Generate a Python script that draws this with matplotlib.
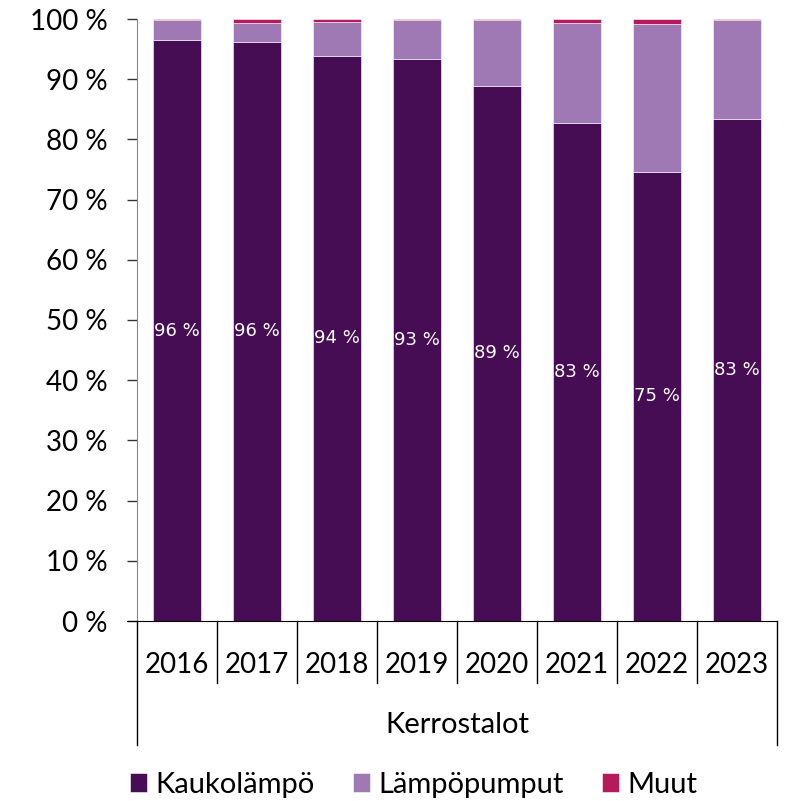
import numpy as np
import matplotlib.pyplot as plt
from matplotlib.transforms import blended_transform_factory

years = ['2016', '2017', '2018', '2019', '2020', '2021', '2022', '2023']
kaukolampo = [96.5, 96.2, 93.9, 93.4, 88.9, 82.7, 74.6, 83.4]
lampopumput = [3.3, 3.1, 5.6, 6.4, 10.9, 16.6, 24.6, 16.5]
muut = [0.2, 0.7, 0.5, 0.2, 0.2, 0.7, 0.8, 0.1]
group = 'Kerrostalot'
series = ['Kaukolämpö', 'Lämpöpumput', 'Muut']
colors = ['#470D54', '#9E79B3', '#B51B5B']

plt.rcParams['font.family'] = ['Lato', 'DejaVu Sans']

fig = plt.figure(figsize=(7.85, 8.01), dpi=100)
ax = fig.add_axes([137 / 785, 1 - 621 / 801, 640 / 785, 602 / 801])

x = np.arange(len(years))
w = 0.61
bottom = np.zeros(len(years))
handles = []
for vals, col, name in zip([kaukolampo, lampopumput, muut], colors, series):
    b = ax.bar(x, vals, w, bottom=bottom, color=col, edgecolor='white',
               linewidth=0.4, label=name)
    handles.append(b)
    bottom += np.array(vals)

for xi, v in zip(x, kaukolampo):
    ax.text(xi, v / 2, f'{v:.0f} %', ha='center', va='center', color='white',
            fontsize=13, family='DejaVu Sans')

ax.set_xlim(-0.5, len(years) - 0.5)
ax.set_ylim(0, 100)
ax.set_yticks(np.arange(0, 101, 10))
ax.set_yticklabels([f'{v} %' for v in range(0, 101, 10)], fontsize=20)
ax.tick_params(axis='y', length=7, width=1, color='#333333', pad=14)

ax.set_xticks(x)
ax.set_xticklabels(years, fontsize=20)
ax.tick_params(axis='x', length=0, pad=22)

for s in ['top', 'right']:
    ax.spines[s].set_visible(False)
ax.spines['left'].set_color('#888888')
ax.spines['bottom'].set_color('black')
ax.spines['bottom'].set_bounds(-0.62, len(years) - 0.5)

trans = blended_transform_factory(ax.transData, ax.transAxes)
for b in np.arange(-0.5, len(years), 1.0):
    y_end = -0.206 if b in (-0.5, len(years) - 0.5) else -0.103
    ax.plot([b, b], [0, y_end], color='black', lw=1, transform=trans,
            clip_on=False)

ax.text((len(years) - 1) / 2, -0.173, group, transform=trans, ha='center',
        va='center', fontsize=21)

fig.legend(handles, series, loc='center', bbox_to_anchor=(0.527, 1 - 785 / 801),
           ncol=3, frameon=False, fontsize=21, handlelength=0.6,
           handleheight=0.6, handletextpad=0.28, columnspacing=1.3)

fig.savefig('out.png', dpi=100)
